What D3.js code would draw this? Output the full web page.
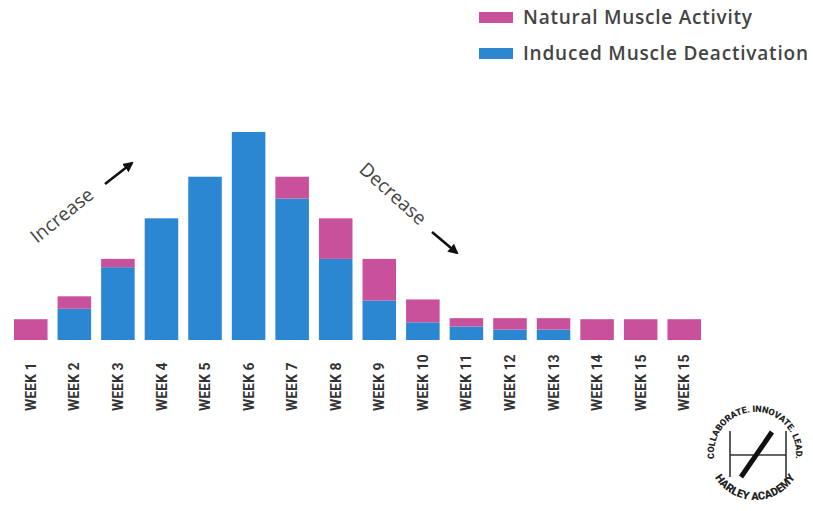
<!DOCTYPE html>
<html>
<head>
    <title>Muscle Activity by Week</title>
    <script src="https://d3js.org/d3.v7.min.js"></script>
    <style>
        body { margin: 0; background: #fff; }
        svg { display: block; }
        .legend text { font: 600 19px "Open Sans", sans-serif; fill: #444; }
        .week { font: bold 14px Roboto, sans-serif; fill: #333; }
        .note { font: 19px "Open Sans", sans-serif; fill: #444; }
        .logo text { font: 900 9px Roboto, sans-serif; fill: #222; }
    </style>
</head>
<body>
<div id="chart"></div>
<script>
// week labels (the source repeats "WEEK 15")
const weeks = ["WEEK 1", "WEEK 2", "WEEK 3", "WEEK 4", "WEEK 5", "WEEK 6", "WEEK 7", "WEEK 8",
               "WEEK 9", "WEEK 10", "WEEK 11", "WEEK 12", "WEEK 13", "WEEK 14", "WEEK 15", "WEEK 15"];
// arbitrary units
const induced = [0, 3.0, 7.0, 11.7, 15.7, 20, 13.6, 7.8, 3.8, 1.7, 1.3, 1.0, 1.0, 0, 0, 0];
const natural = [2.0, 1.2, 0.8, 0, 0, 0, 2.1, 3.9, 4.0, 2.2, 0.8, 1.1, 1.1, 2.0, 2.0, 2.0];
const seriesNames = ["Natural Muscle Activity", "Induced Muscle Deactivation"];

const pink = "#c9519c";
const blue = "#2b87d1";

const width = 813, height = 511;
const svg = d3.select("#chart").append("svg")
    .attr("width", width)
    .attr("height", height);

// 1. scales
const x = d3.scaleBand()
    .domain(d3.range(weeks.length))
    .range([14, 701])
    .paddingInner(0.23)
    .paddingOuter(0);

const y = d3.scaleLinear()
    .domain([0, 20])
    .range([340, 132]);

const rows = weeks.map((w, i) => ({ i: i, induced: induced[i], natural: natural[i] }));
const stacked = d3.stack().keys(["induced", "natural"])(rows);
const colors = { induced: blue, natural: pink };

// 2. bars
svg.append("g").selectAll("g")
    .data(stacked)
    .enter().append("g")
    .attr("fill", d => colors[d.key])
    .selectAll("rect")
    .data(d => d.filter(p => p[1] > p[0]))
    .enter().append("rect")
    .attr("x", d => x(d.data.i))
    .attr("y", d => y(d[1]))
    .attr("width", x.bandwidth())
    .attr("height", d => y(d[0]) - y(d[1]));

// 3. week labels, rotated
svg.append("g").selectAll("text")
    .data(weeks)
    .enter().append("text")
    .attr("class", "week")
    .attr("transform", (d, i) => `translate(${x(i) + x.bandwidth() / 2},411) rotate(-90)`)
    .attr("dy", "0.36em")
    .text(d => d);

// 4. legend
const legend = svg.append("g").attr("class", "legend");
const legendColors = [pink, blue];
const legendWidths = [229, 285];
seriesNames.forEach((name, i) => {
    legend.append("rect")
        .attr("x", 479).attr("y", 12 + i * 36)
        .attr("width", 34).attr("height", 11)
        .attr("fill", legendColors[i]);
    legend.append("text")
        .attr("x", 523).attr("y", 24 + i * 36)
        .attr("textLength", legendWidths[i])
        .attr("lengthAdjust", "spacing")
        .text(name);
});

// 5. increase / decrease notes
const defs = svg.append("defs");
defs.append("marker")
    .attr("id", "head")
    .attr("viewBox", "0 0 10 10")
    .attr("refX", 8).attr("refY", 5)
    .attr("markerWidth", 4).attr("markerHeight", 4)
    .attr("orient", "auto")
    .append("path")
    .attr("d", "M0,0 L10,5 L0,10 Z")
    .attr("fill", "#111");

svg.append("text").attr("class", "note")
    .attr("transform", "translate(37,244) rotate(-39)")
    .text("Increase");
svg.append("line")
    .attr("x1", 105).attr("y1", 184).attr("x2", 132).attr("y2", 163)
    .attr("stroke", "#111").attr("stroke-width", 2.6)
    .attr("marker-end", "url(#head)");

svg.append("text").attr("class", "note")
    .attr("transform", "translate(358,171) rotate(42)")
    .text("Decrease");
svg.append("line")
    .attr("x1", 432).attr("y1", 232).attr("x2", 457).attr("y2", 253)
    .attr("stroke", "#111").attr("stroke-width", 2.6)
    .attr("marker-end", "url(#head)");

// 6. logo
const cx = 755, cy = 453;
const logo = svg.append("g").attr("class", "logo");
function pt(r, a) {
    const rad = a * Math.PI / 180;
    return [cx + r * Math.cos(rad), cy - r * Math.sin(rad)];
}
const rTop = 41, rBot = 47;
const t0 = pt(rTop, 197), t1 = pt(rTop, -17);
defs.append("path").attr("id", "arcTop")
    .attr("d", `M${t0[0]},${t0[1]} A${rTop},${rTop} 0 1 1 ${t1[0]},${t1[1]}`);
const b0 = pt(rBot, 208), b1 = pt(rBot, 332);
defs.append("path").attr("id", "arcBottom")
    .attr("d", `M${b0[0]},${b0[1]} A${rBot},${rBot} 0 0 0 ${b1[0]},${b1[1]}`);

logo.append("text").append("textPath")
    .attr("href", "#arcTop")
    .attr("startOffset", "50%")
    .attr("text-anchor", "middle")
    .text("COLLABORATE. INNOVATE. LEAD.");
logo.append("text").style("font-size", "11px").append("textPath")
    .attr("href", "#arcBottom")
    .attr("startOffset", "50%")
    .attr("text-anchor", "middle")
    .text("HARLEY ACADEMY");

logo.append("line").attr("x1", 730).attr("y1", 431).attr("x2", 730).attr("y2", 477)
    .attr("stroke", "#333").attr("stroke-width", 1.6);
logo.append("line").attr("x1", 786).attr("y1", 431).attr("x2", 786).attr("y2", 477)
    .attr("stroke", "#333").attr("stroke-width", 1.6);
logo.append("line").attr("x1", 730).attr("y1", 455).attr("x2", 786).attr("y2", 455)
    .attr("stroke", "#333").attr("stroke-width", 1.6);
logo.append("line").attr("x1", 741).attr("y1", 477).attr("x2", 772).attr("y2", 432)
    .attr("stroke", "#111").attr("stroke-width", 5);
</script>
</body>
</html>
